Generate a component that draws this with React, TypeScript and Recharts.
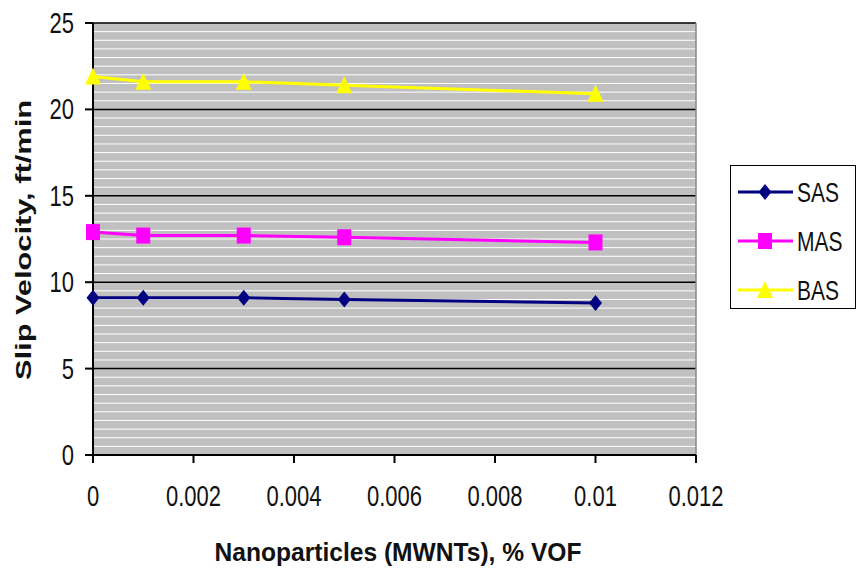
import {
	CartesianGrid,
	Label,
	Legend,
	Line,
	LineChart,
	ReferenceLine,
	XAxis,
	YAxis,
} from "recharts";

// nanoparticle concentration, % VOF
const concentrations = [0, 0.001, 0.003, 0.005, 0.01];
// slip velocity, ft/min
const sasValues = [9.1, 9.1, 9.1, 9.0, 8.8];
const masValues = [12.9, 12.7, 12.7, 12.6, 12.3];
const basValues = [21.9, 21.6, 21.6, 21.4, 20.9];

const seriesNames = ["SAS", "MAS", "BAS"];
const xTicks = [0, 0.002, 0.004, 0.006, 0.008, 0.01, 0.012];
const yTicks = [0, 5, 10, 15, 20, 25];
// white minor gridlines every 0.5 ft/min
const minorGrid = Array.from({ length: 50 }, (_, i) => i * 0.5).filter(
	(v) => v % 5 !== 0,
);

const data = concentrations.map((c, i) => ({
	conc: c,
	SAS: sasValues[i],
	MAS: masValues[i],
	BAS: basValues[i],
}));

const FONT = "'Liberation Sans', Arial, sans-serif";
const STRETCH = 1.3;

const colors: Record<string, string> = {
	SAS: "#000080",
	MAS: "#ff00ff",
	BAS: "#ffff00",
};

function Marker({ name, cx, cy }: { name: string; cx: number; cy: number }) {
	const c = colors[name];
	if (name === "SAS") {
		return (
			<path
				d={`M${cx},${cy - 8} L${cx + 6.5},${cy} L${cx},${cy + 8} L${cx - 6.5},${cy} Z`}
				fill={c}
			/>
		);
	}
	if (name === "MAS") {
		return <rect x={cx - 7} y={cy - 8} width={14} height={16} fill={c} />;
	}
	return (
		<path
			d={`M${cx},${cy - 9} L${cx + 8},${cy + 8} L${cx - 8},${cy + 8} Z`}
			fill={c}
		/>
	);
}

function dotFor(name: string) {
	return (props: any) => (
		<Marker key={`${name}-${props.index}`} name={name} cx={props.cx} cy={props.cy} />
	);
}

function XTick({ x, y, payload }: any) {
	return (
		<g transform={`translate(${x},${y + 41})`}>
			<text
				textAnchor="middle"
				transform={`scale(1,${STRETCH})`}
				fontSize={22}
				fontFamily={FONT}
				fill="#111"
			>
				{String(payload.value)}
			</text>
		</g>
	);
}

function YTick({ x, y, payload }: any) {
	return (
		<g transform={`translate(${x - 9},${y + 10})`}>
			<text
				textAnchor="end"
				transform={`scale(1,${STRETCH})`}
				fontSize={22}
				fontFamily={FONT}
				fill="#111"
			>
				{String(payload.value)}
			</text>
		</g>
	);
}

function LegendBox({ payload }: any) {
	const entries = [...(payload || [])].sort(
		(a: any, b: any) => seriesNames.indexOf(a.value) - seriesNames.indexOf(b.value),
	);
	return (
		<div
			style={{
				width: 126,
				height: 144,
				border: "1.5px solid #000",
				background: "#fff",
				boxSizing: "border-box",
			}}
		>
			<svg width={123} height={141} style={{ display: "block" }}>
				{entries.map((entry: any, i: number) => {
					const cy = 26 + i * 49;
					return (
						<g key={entry.value}>
							<line
								x1={7}
								x2={62}
								y1={cy}
								y2={cy}
								stroke={colors[entry.value]}
								strokeWidth={3}
							/>
							<Marker name={entry.value} cx={34} cy={cy} />
							<g transform={`translate(66,${cy + 10})`}>
								<text
									transform={`scale(1,${STRETCH})`}
									fontSize={21}
									fontFamily={FONT}
									fill="#111"
								>
									{entry.value}
								</text>
							</g>
						</g>
					);
				})}
			</svg>
		</div>
	);
}

export default function App() {
	return (
		<div
			style={{
				position: "absolute",
				left: 0,
				top: 0,
				width: 860,
				height: 571,
				background: "#fff",
			}}
		>
			<LineChart
				width={860}
				height={571}
				data={data}
				margin={{ top: 23, right: 164, left: 0, bottom: 0 }}
			>
				<CartesianGrid vertical={false} horizontal={false} fill="#c0c0c0" />
				{minorGrid.map((v) => (
					<ReferenceLine key={`m${v}`} y={v} stroke="#ffffff" strokeWidth={1} />
				))}
				{yTicks.map((v) => (
					<ReferenceLine key={`M${v}`} y={v} stroke="#000" strokeWidth={1.5} />
				))}
				<ReferenceLine x={0.012} stroke="#888" strokeWidth={1.5} />
				<XAxis
					type="number"
					dataKey="conc"
					domain={[0, 0.012]}
					ticks={xTicks}
					height={116}
					tickSize={8}
					stroke="#000"
					strokeWidth={2}
					tick={<XTick />}
				>
					<Label
						content={() => (
							<g transform="translate(398,561)">
								<text
									textAnchor="middle"
									transform={`scale(1,${STRETCH})`}
									fontSize={20}
									fontWeight="bold"
									fontFamily={FONT}
									fill="#111"
									textLength={367}
									lengthAdjust="spacingAndGlyphs"
								>
									Nanoparticles (MWNTs), % VOF
								</text>
							</g>
						)}
					/>
				</XAxis>
				<YAxis
					type="number"
					domain={[0, 25]}
					ticks={yTicks}
					width={93}
					tickSize={8}
					stroke="#000"
					strokeWidth={2}
					tick={<YTick />}
				>
					<Label
						content={() => (
							<g transform="translate(31,240) rotate(-90)">
								<text
									textAnchor="middle"
									fontSize={22}
									fontWeight="bold"
									fontFamily={FONT}
									fill="#111"
									textLength={280}
									lengthAdjust="spacingAndGlyphs"
								>
									Slip Velocity, ft/min
								</text>
							</g>
						)}
					/>
				</YAxis>
				<Legend
					layout="vertical"
					align="center"
					verticalAlign="middle"
					wrapperStyle={{ left: 730, top: 165, width: 126, height: 144 }}
					content={<LegendBox />}
				/>
				<Line
					dataKey="SAS"
					stroke={colors.SAS}
					strokeWidth={3}
					dot={dotFor("SAS")}
					isAnimationActive={false}
				/>
				<Line
					dataKey="MAS"
					stroke={colors.MAS}
					strokeWidth={3}
					dot={dotFor("MAS")}
					isAnimationActive={false}
				/>
				<Line
					dataKey="BAS"
					stroke={colors.BAS}
					strokeWidth={3}
					dot={dotFor("BAS")}
					isAnimationActive={false}
				/>
			</LineChart>
		</div>
	);
}
